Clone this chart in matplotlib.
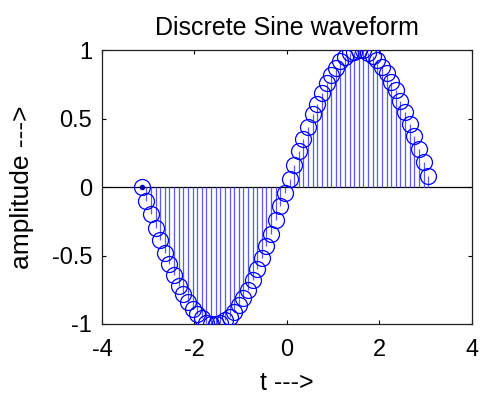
import matplotlib
matplotlib.use("Agg")
import matplotlib.pyplot as plt

t = [-3.14, -3.04, -2.94, -2.84, -2.74, -2.64, -2.54, -2.44, -2.34, -2.24,
     -2.14, -2.04, -1.94, -1.84, -1.74, -1.64, -1.54, -1.44, -1.34, -1.24,
     -1.14, -1.04, -0.94, -0.84, -0.74, -0.64, -0.54, -0.44, -0.34, -0.24,
     -0.14, -0.04, 0.06, 0.16, 0.26, 0.36, 0.46, 0.56, 0.66, 0.76,
     0.86, 0.96, 1.06, 1.16, 1.26, 1.36, 1.46, 1.56, 1.66, 1.76,
     1.86, 1.96, 2.06, 2.16, 2.26, 2.36, 2.46, 2.56, 2.66, 2.76,
     2.86, 2.96, 3.06]
amplitude = [0.00, -0.10, -0.20, -0.30, -0.39, -0.48, -0.56, -0.64, -0.72, -0.78,
             -0.84, -0.89, -0.93, -0.96, -0.99, -1.00, -1.00, -0.99, -0.97, -0.95,
             -0.91, -0.86, -0.81, -0.75, -0.68, -0.60, -0.52, -0.43, -0.34, -0.24,
             -0.14, -0.04, 0.06, 0.16, 0.26, 0.35, 0.44, 0.53, 0.61, 0.69,
             0.76, 0.82, 0.87, 0.92, 0.95, 0.98, 0.99, 1.00, 1.00, 0.98,
             0.96, 0.93, 0.88, 0.83, 0.77, 0.71, 0.63, 0.55, 0.46, 0.37,
             0.28, 0.18, 0.08]
xticks = [-4, -2, 0, 2, 4]
yticks = [-1, -0.5, 0, 0.5, 1]
ytick_labels = ["-1", "-0.5", "0", "0.5", "1"]

plt.rcParams['font.family'] = ['Liberation Sans', 'DejaVu Sans']

fig = plt.figure(figsize=(4.8, 3.98), dpi=100)
ax = fig.add_axes([0.2125, 0.186, 0.770, 0.688])

ax.axhline(0, color='black', linewidth=0.9, zorder=1)
ax.vlines(t, 0, amplitude, colors=(0.35, 0.35, 1.0), linewidth=0.9, zorder=2)
ax.plot(t, amplitude, linestyle='none', marker='o', markersize=11.5,
        markerfacecolor='none', markeredgecolor='blue', markeredgewidth=0.9, zorder=3)
ax.plot(t[:1], amplitude[:1], linestyle='none', marker='o', markersize=3,
        color=(0, 0, 0.7), zorder=4)

ax.set_xlim(-4, 4)
ax.set_ylim(-1, 1)
ax.set_xticks(xticks)
ax.set_xticklabels([str(v) for v in xticks])
ax.set_yticks(yticks)
ax.set_yticklabels(ytick_labels)
ax.tick_params(direction='in', length=3, width=0.8, top=True, right=True,
               labelsize=17)
ax.tick_params(axis='x', pad=11)
ax.tick_params(axis='y', pad=7)
for s in ax.spines.values():
    s.set_linewidth(0.9)
    s.set_color('#202020')

ax.set_title("Discrete Sine waveform", fontsize=18, pad=11)
ax.set_xlabel("t --->", fontsize=18, labelpad=7)
ax.set_ylabel("amplitude --->", fontsize=19, labelpad=13)

fig.savefig("out.png", dpi=100)
